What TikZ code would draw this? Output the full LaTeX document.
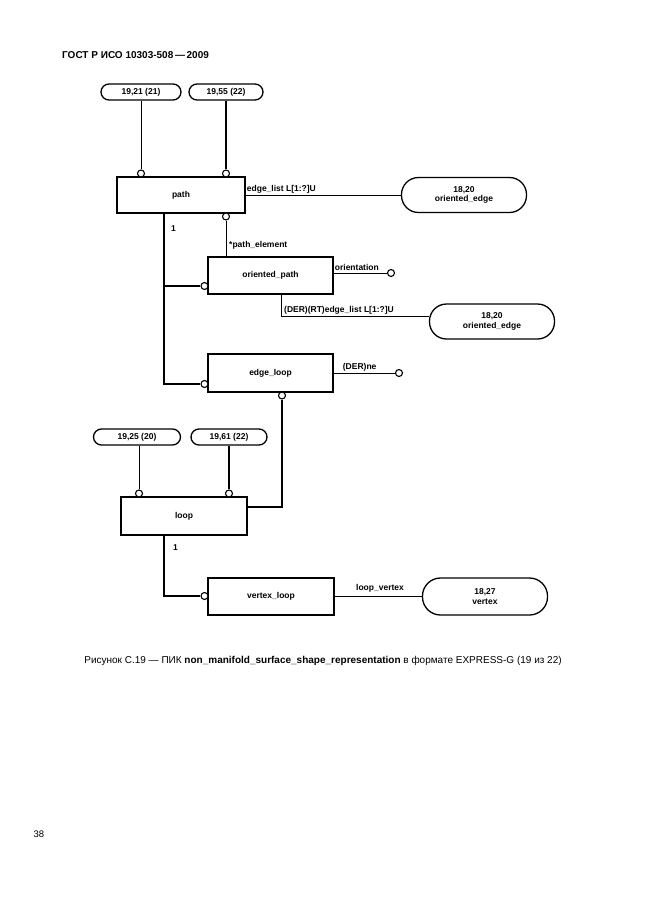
\documentclass[tikz,border=0pt]{standalone}
\usepackage{fontspec}
\setmainfont{Liberation Sans}
\newcommand\dfont{\fontsize{8.5}{9.5}\selectfont\bfseries}
\tikzset{
 ent/.style={draw, line width=1.4pt, minimum width=126pt, minimum height=37pt, inner sep=0pt, font=\dfont},
 sref/.style={draw, line width=1.3pt, rounded corners=8pt, minimum height=16pt, inner sep=0pt, font=\dfont},
 bref/.style={draw, line width=1.3pt, rounded corners=17pt, minimum width=125pt, minimum height=35pt, inner sep=0pt, font=\dfont, align=center},
 circ/.style={circle, draw, line width=1.1pt, fill=white, minimum size=7pt, inner sep=0pt},
 thinl/.style={line width=0.9pt},
 thickl/.style={line width=2.8pt},
 lbl/.style={font=\dfont, inner sep=1pt}
}
\begin{document}
\begin{tikzpicture}[x=1pt,y=-1pt]
\useasboundingbox (0,0) rectangle (646,913);
% header
\node[anchor=base west, font=\fontsize{10}{12}\selectfont\bfseries, inner sep=0pt] (hdr) at (62,58) {ГОСТ Р ИСО 10303-508\,—\,2009};
% top references
\node[sref, minimum width=80pt] (r1) at (141,92) {19,21 (21)};
\node[sref, minimum width=74pt] (r2) at (226,92) {19,55 (22)};
% path
\node[ent, minimum width=128pt, minimum height=36pt] (path) at (181,195) {path};
\node[circ] (c1) at (141,173.5) {};
\node[circ] (c2) at (226,173.5) {};
\node[circ] (c3) at (226,216.5) {};
\draw[thinl] (r1.south -| c1) -- (c1.north);
\draw[thickl] (r2.south -| c2) -- (c2.north);
\node[bref] (oe1) at (464,195) {18,20\\oriented\_edge};
\draw[thinl] (path.east) -- (oe1.west);
\node[lbl, anchor=south west] (l1) at ([yshift=1pt]path.east) {edge\_list L[1:?]U};
% oriented_path
\node[ent, minimum width=125pt] (op) at (270.5,275.5) {oriented\_path};
\draw[thinl] (c3.south) -- (c3.south |- op.north);
\node[lbl, anchor=south west] (l2) at (228,250) {*path\_element};
\node[circ] (c4) at (204.5,286) {};
\node[circ] (c6) at (391,273) {};
\draw[thinl] (op.east |- c6) -- (c6.west);
\node[lbl, anchor=south west] (l3) at ([yshift=1pt]op.east |- c6) {orientation};
\node[bref] (oe2) at (492,321.5) {18,20\\oriented\_edge};
\draw[thinl] ([xshift=10.5pt]op.south) |- ([yshift=5.5pt]oe2.west);
\node[lbl, anchor=south west] (l4) at (283,315) {(DER)(RT)edge\_list L[1:?]U};
% edge_loop
\node[ent, minimum width=125pt, minimum height=38pt] (el) at (270.5,373) {edge\_loop};
\node[circ] (c5) at (204.5,384) {};
\node[circ] (c7) at (399,373) {};
\node[circ] (c8) at (282,395.5) {};
\draw[thinl] (el.east) -- (c7.west);
\node[lbl, anchor=south west] (l5) at ([xshift=8pt,yshift=1pt]el.east) {(DER)ne};
% trunk from path
\coordinate (t1) at (164,213);
\draw[thickl] (t1) |- (c5.west);
\draw[thickl] (c4.west) -- (c4.west -| t1);
\node[lbl, anchor=west] (n1) at (170,229) {1};
% loop
\node[sref, minimum width=87pt] (r3) at (137,437) {19,25 (20)};
\node[sref, minimum width=76pt] (r4) at (229,437) {19,61 (22)};
\node[ent, minimum width=126pt, minimum height=38pt] (loop) at (184,516) {loop};
\node[circ] (c9) at (139,493.5) {};
\node[circ] (c10) at (229,493.5) {};
\draw[thinl] (r3.south -| c9) -- (c9.north);
\draw[thickl] (r4.south -| c10) -- (c10.north);
\draw[thickl] (c8.south) |- ([yshift=9pt]loop.east);
% vertex_loop
\node[ent, minimum width=126pt, minimum height=37pt] (vl) at (271,596.5) {vertex\_loop};
\node[circ] (c11) at (204.5,596) {};
\coordinate (t2) at (164,535);
\draw[thickl] (t2) |- (c11.west);
\node[lbl, anchor=west] (n2) at (172,548) {1};
\node[bref, minimum height=37pt, rounded corners=18pt] (oe3) at (485,596.5) {18,27\\vertex};
\draw[thinl] (vl.east) -- (oe3.west);
\node[lbl, anchor=south] (l6) at (380,593) {loop\_vertex};
% caption
\node[font=\fontsize{10}{12}\selectfont, inner sep=0pt] (cap) at (323,661) {Рисунок С.19 — ПИК \textbf{non\_manifold\_surface\_shape\_representation} в формате EXPRESS-G (19 из 22)};
\node[font=\fontsize{9.5}{11}\selectfont, inner sep=0pt] (pg) at (39,834) {38};
\end{tikzpicture}
\end{document}
